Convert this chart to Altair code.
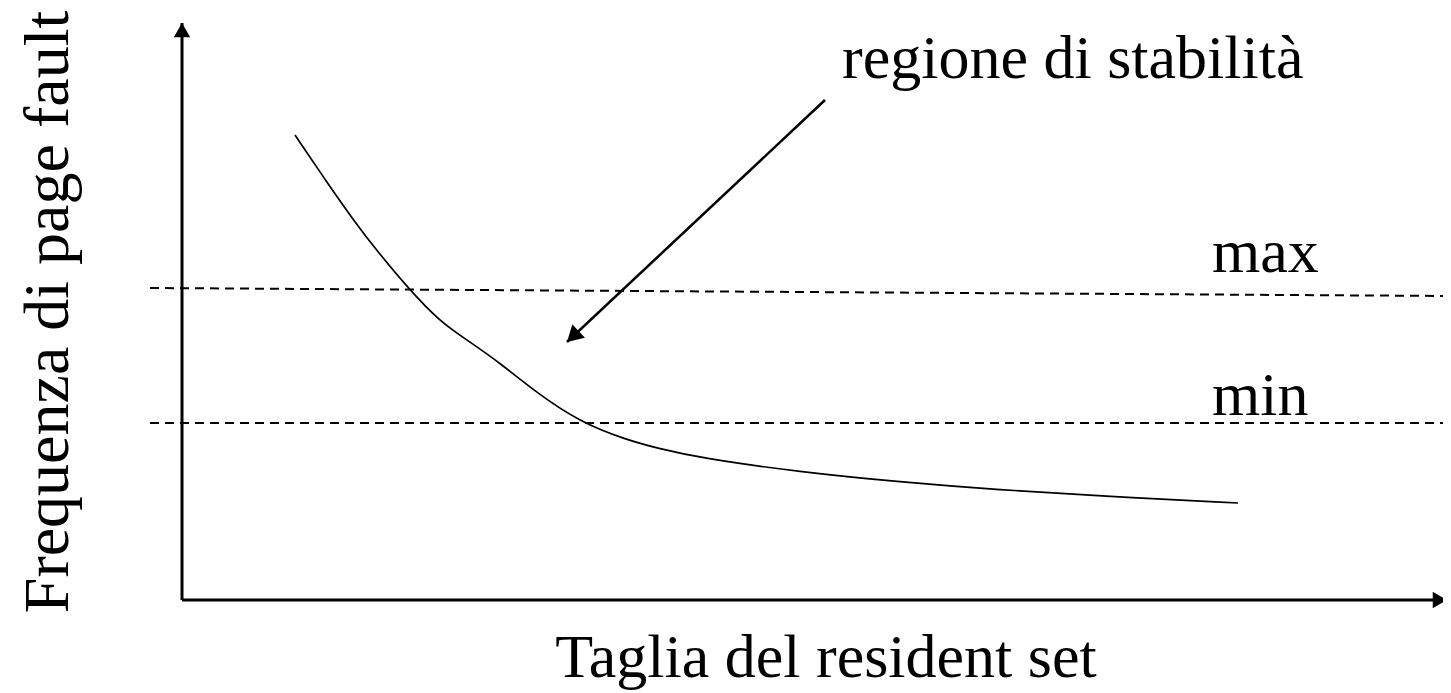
import math
import altair as alt
import pandas as pd

# ---- data (diagram coordinates: origin at the axes' crossing) ----
curve_x = [113, 144, 175, 196, 226, 258, 288, 318, 355, 398, 445, 475, 518, 618, 718, 818, 918, 1056]
curve_y = [465, 419, 375, 348, 312, 278, 258, 237, 207, 178, 160, 152, 142, 128, 118, 110, 104, 97]

limit_names = ["max", "min"]
limit_x_start = [-32, -32]
limit_x_end = [1269, 1269]
limit_y_start = [312, 177]
limit_y_end = [304, 177]

axis_names = ["x", "y"]
axis_x_start = [0, 0]
axis_y_start = [0, 0]
axis_x_end = [1265, 0]
axis_y_end = [0, 577]

arrow_start = (643, 500)
arrow_tip = (385, 258)

label_texts = ["regione di stabilità", "max", "min"]
label_x = [660, 1030, 1030]
label_y = [522, 328, 185]

x_title = "Taglia del resident set"
x_title_pos = (644, -77)
y_title = "Frequenza di page fault"
y_title_pos = (-114, 288)

FONT = "Liberation Serif"
W, H = 1435, 685
XS = alt.Scale(domain=[-174, 1261], nice=False, zero=False)
YS = alt.Scale(domain=[592 - H, 592], nice=False, zero=False)


def X(f):
    return alt.X(f, type="quantitative", scale=XS, axis=None)


def Y(f):
    return alt.Y(f, type="quantitative", scale=YS, axis=None)


# curve
curve_df = pd.DataFrame({"x": curve_x, "y": curve_y})
curve = alt.Chart(curve_df).mark_line(
    color="black", strokeWidth=1.7, interpolate="basis"
).encode(x=X("x"), y=Y("y"), order="x:Q")

# dashed limits
lim_df = pd.DataFrame({"n": limit_names, "x": limit_x_start, "x2": limit_x_end,
                       "y": limit_y_start, "y2": limit_y_end})
limits = alt.Chart(lim_df).mark_rule(
    color="black", strokeWidth=2, strokeDash=[9, 6]
).encode(x=X("x"), x2="x2", y=Y("y"), y2="y2")

# axes
ax_df = pd.DataFrame({"n": axis_names, "x": axis_x_start, "y": axis_y_start,
                      "x2": axis_x_end, "y2": axis_y_end})
axes = alt.Chart(ax_df).mark_rule(color="black", strokeWidth=3).encode(
    x=X("x"), x2="x2", y=Y("y"), y2="y2")

# axis arrowheads (triangle centred a little back from the tip)
head_size = 270
hh = math.sqrt(3) * (math.sqrt(head_size) / 2) / 2
heads_df = pd.DataFrame({
    "x": [axis_x_end[0] - hh, axis_x_end[1]],
    "y": [axis_y_end[0], axis_y_end[1] - hh],
    "shape": ["triangle-right", "triangle-up"],
})
heads = alt.Chart(heads_df).mark_point(
    filled=True, color="black", opacity=1, size=head_size, strokeWidth=0
).encode(x=X("x"), y=Y("y"), shape=alt.Shape("shape:N", scale=None, legend=None))

# annotation arrow
arr_df = pd.DataFrame({"x": [arrow_start[0]], "y": [arrow_start[1]],
                       "x2": [arrow_tip[0]], "y2": [arrow_tip[1]]})
arrow_line = alt.Chart(arr_df).mark_rule(color="black", strokeWidth=2.5).encode(
    x=X("x"), x2="x2", y=Y("y"), y2="y2")
dx = arrow_tip[0] - arrow_start[0]
dy = arrow_tip[1] - arrow_start[1]
L = math.hypot(dx, dy)
ux, uy = dx / L, dy / L
a_size = 340
ah = math.sqrt(3) * (math.sqrt(a_size) / 2) / 2
sx, sy = ux, -uy
angle = (math.degrees(math.atan2(sx, -sy))) % 360
ahead_df = pd.DataFrame({"x": [arrow_tip[0] - ux * ah], "y": [arrow_tip[1] - uy * ah]})
arrow_head = alt.Chart(ahead_df).mark_point(
    filled=True, color="black", opacity=1, size=a_size, shape="triangle-up",
    angle=angle, strokeWidth=0
).encode(x=X("x"), y=Y("y"))

# labels
lab_df = pd.DataFrame({"t": label_texts, "x": label_x, "y": label_y})
labels = alt.Chart(lab_df).mark_text(
    align="left", baseline="alphabetic", font=FONT, fontSize=62, color="black"
).encode(x=X("x"), y=Y("y"), text="t:N")

xt_df = pd.DataFrame({"t": [x_title], "x": [x_title_pos[0]], "y": [x_title_pos[1]]})
xt = alt.Chart(xt_df).mark_text(
    align="center", baseline="alphabetic", font=FONT, fontSize=62, color="black"
).encode(x=X("x"), y=Y("y"), text="t:N")

yt_df = pd.DataFrame({"t": [y_title], "x": [y_title_pos[0]], "y": [y_title_pos[1]]})
yt = alt.Chart(yt_df).mark_text(
    align="center", baseline="alphabetic", font=FONT, fontSize=64, color="black",
    angle=270
).encode(x=X("x"), y=Y("y"), text="t:N")

chart = alt.layer(limits, axes, heads, curve, arrow_line, arrow_head, labels, xt, yt).properties(
    width=W, height=H, padding=0, autosize=alt.AutoSizeParams(type="none"),
    background="white"
).configure_view(stroke=None)

chart.save("out.html", embed_options={"renderer": "svg", "actions": False})
